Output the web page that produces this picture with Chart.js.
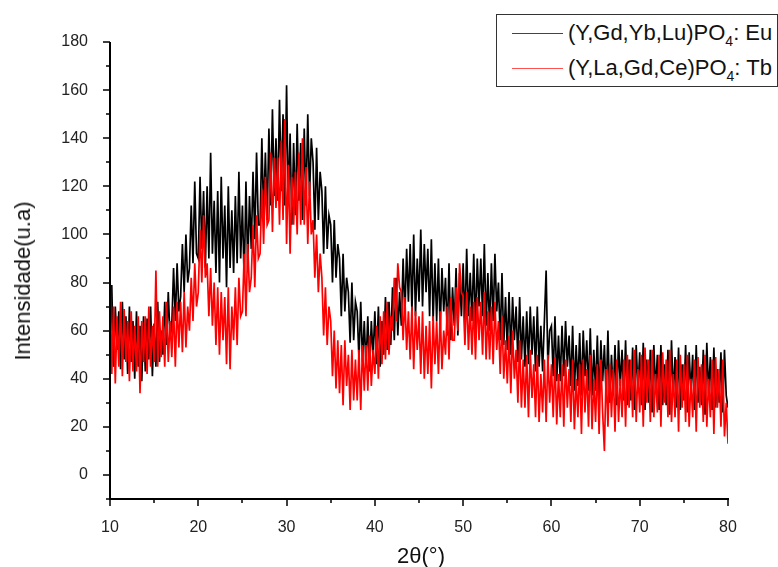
<!DOCTYPE html>
<html><head><meta charset="utf-8">
<script src="https://cdn.jsdelivr.net/npm/chart.js@4.4.1/dist/chart.umd.min.js"></script>
<style>
html,body{margin:0;padding:0;background:#fff;}
#wrap{position:relative;width:778px;height:567px;overflow:hidden;background:#fff;}
#c{position:absolute;left:0;top:0;}
.t{position:absolute;font-family:"Liberation Sans",Arial,sans-serif;color:#111;white-space:nowrap;line-height:1;}
#ytitle{left:23px;top:281px;transform:translate(-50%,-50%) rotate(-90deg);font-size:22px;}
#xtitle{left:421px;top:556px;transform:translate(-50%,-50%);font-size:22px;}
#legend{position:absolute;left:496px;top:14px;width:282px;height:73px;border:1px solid #333;box-sizing:border-box;background:#fff;}
.lrow{position:absolute;left:0;height:30px;width:100%;}
.lline{position:absolute;left:15px;width:51px;height:0;border-top:1.5px solid;top:14px;}
.ltext{position:absolute;left:71px;top:3px;font-family:"Liberation Sans",Arial,sans-serif;font-size:22px;color:#111;white-space:nowrap;line-height:22px;}
.ltext sub{font-size:14px;vertical-align:-6px;line-height:0;}
</style>
</head><body>
<div id="wrap">
<canvas id="c" width="778" height="567"></canvas>
<div class="t" id="ytitle">Intensidade(u.a)</div>
<div class="t" id="xtitle">2θ(°)</div>
<div id="legend">
  <div class="lrow" style="top:4px"><div class="lline" style="border-color:#444"></div><div class="ltext">(Y,Gd,Yb,Lu)PO<sub>4</sub>: Eu</div></div>
  <div class="lrow" style="top:39px"><div class="lline" style="border-color:#ff5050"></div><div class="ltext">(Y,La,Gd,Ce)PO<sub>4</sub>: Tb</div></div>
</div>
</div>
<script>
// scan settings
const START_ANGLE = 10;
const STEP = 0.2;

// (Y,Gd,Yb,Lu)PO4: Eu  -- black
const seriesEu = [
50,79,45,70,52, 68,44,72,48,66, 42,70,47,64,40, 68,45,62,39,66, 43,65,48,70,41, 63,45,72,47,60, 50,72,54,76,57, 62,86,64,88,68, 74,96,76,100,80, 86,112,88,122,92,
90,124,94,118,86, 120,90,134,92,114, 84,118,80,124,90, 112,78,120,86,110, 84,116,88,126,90, 112,80,122,86,116, 94,126,98,134,104, 104,140,108,134,106, 144,112,152,116,140, 114,156,118,150,112,
162,112,142,104,138, 108,146,114,138,106, 144,112,150,116,140, 130,102,136,106,126, 118,92,120,94,108, 104,80,106,82,96, 90,66,92,68,82, 76,55,80,56,72, 68,48,72,47,64, 45,66,43,64,49,
68,46,70,45,64, 50,74,52,72,54, 78,56,82,58,76, 62,90,66,94,72, 96,68,100,66,90, 72,102,70,96,76, 94,66,98,64,88, 64,90,60,86,68, 82,58,88,56,78, 62,86,58,84,66,
88,62,94,66,84, 64,92,60,90,70, 90,66,96,62,84, 60,88,64,92,68, 80,56,84,54,74, 52,76,50,74,56, 70,47,74,48,66, 45,68,46,70,50, 66,43,70,45,62, 43,64,85,45,60,
62,41,66,39,58, 39,62,41,64,45, 58,37,62,35,54, 37,59,33,60,41, 56,35,61,33,52, 35,58,31,56,39, 54,32,60,30,50, 33,54,29,56,37, 52,31,56,29,48, 31,53,27,54,35,
51,29,55,27,48, 30,52,26,54,35, 50,27,54,29,46, 29,52,25,56,33, 49,28,53,27,46, 31,54,26,51,34, 50,27,54,30,45, 29,52,25,55,34, 49,27,53,28,44, 30,51,26,52,33,
28];

// (Y,La,Gd,Ce)PO4: Tb  -- red
const seriesTb = [
84,42,70,38,66, 45,72,41,69,47, 64,39,68,43,62, 43,66,34,64,47, 66,42,70,45,62, 47,85,45,68,49, 66,45,72,47,64, 49,70,45,72,53, 72,51,76,53,70, 60,82,64,88,70,
76,102,80,108,82, 88,66,86,62,80, 54,78,50,76,56, 74,46,78,44,70, 56,78,54,82,66, 68,92,66,96,76, 82,104,78,108,90, 92,119,96,124,104, 106,134,101,132,111, 132,104,139,106,148,
96,129,92,124,104, 126,100,134,104,140, 104,128,96,122,100, 106,82,100,76,92, 82,58,78,54,70, 64,41,60,36,56, 34,54,29,56,37, 50,27,52,31,48, 31,52,27,54,35, 54,35,58,37,52,
42,62,40,66,46, 68,48,72,50,66, 60,82,64,88,78, 76,56,74,52,68, 48,70,44,68,52, 66,42,68,40,62, 42,64,36,66,46, 64,42,68,44,60, 50,70,48,74,56, 56,78,60,88,76,
74,54,76,52,70, 50,72,48,74,56, 72,50,76,48,68, 48,70,46,72,52, 64,42,66,40,56, 38,58,34,60,40, 52,30,56,28,48, 28,50,24,52,32, 46,24,50,22,42, 26,48,22,50,30,
46,24,49,21,42, 24,46,20,48,28, 44,22,48,19,40, 24,46,17,48,26, 44,20,50,19,40, 22,46,17,48,26, 10,44,20,46,24, 44,18,48,22,40, 24,48,20,50,28, 48,24,52,22,44,
26,50,20,53,30, 48,22,52,24,42, 26,50,20,51,30, 48,24,52,22,42, 24,48,18,50,28, 46,22,50,20,40, 24,48,18,49,28, 46,22,50,20,40, 24,48,17,49,28, 44,20,48,16,30,
13];

const xTickValues = [10,15,20,25,30,35,40,45,50,55,60,65,70,75,80];
const yTickValues = [-10,0,10,20,30,40,50,60,70,80,90,100,110,120,130,140,150,160,170,180];

const toPoints = arr => arr.map((v, i) => ({x: +(START_ANGLE + i * STEP).toFixed(2), y: v}));
const FONT = '"Liberation Sans", Arial, sans-serif';

const axisPlugin = {
  id: 'axisPlugin',
  afterDraw(chart) {
    const {ctx, chartArea: a, scales: {x, y}} = chart;
    ctx.save();
    ctx.strokeStyle = '#000';
    ctx.lineWidth = 2;
    ctx.beginPath();
    ctx.moveTo(a.left, a.top);
    ctx.lineTo(a.left, a.bottom);
    ctx.lineTo(a.right + 1, a.bottom);
    ctx.stroke();
    ctx.lineWidth = 1.5;
    ctx.beginPath();
    xTickValues.forEach(v => {
      const px = Math.round(x.getPixelForValue(v));
      const len = v % 10 === 0 ? 7 : 4;
      ctx.moveTo(px, a.bottom);
      ctx.lineTo(px, a.bottom + len);
    });
    yTickValues.forEach(v => {
      const py = Math.round(y.getPixelForValue(v));
      const len = (v % 20 === 0) ? 7 : 4;
      ctx.moveTo(a.left, py);
      ctx.lineTo(a.left - len, py);
    });
    ctx.stroke();
    ctx.restore();
  }
};

new Chart(document.getElementById('c'), {
  type: 'line',
  data: {
    datasets: [
      {label: '(Y,La,Gd,Ce)PO4: Tb', data: toPoints(seriesTb), borderColor: '#ff0000', borderWidth: 1.7, pointRadius: 0, tension: 0},
      {label: '(Y,Gd,Yb,Lu)PO4: Eu', data: toPoints(seriesEu), borderColor: '#000000', borderWidth: 1.7, pointRadius: 0, tension: 0}
    ]
  },
  options: {
    responsive: false,
    animation: false,
    devicePixelRatio: 1,
    layout: {padding: {left: 0, top: 42, right: 50, bottom: 0}},
    plugins: {legend: {display: false}, tooltip: {enabled: false}},
    scales: {
      x: {
        type: 'linear', min: 10, max: 80,
        afterBuildTicks: s => { s.ticks = xTickValues.map(v => ({value: v})); },
        afterFit: s => { s.height = 68; },
        ticks: {autoSkip: false, maxRotation: 0, padding: 11, color: '#222', font: {family: FONT, size: 16},
          callback: v => (v % 10 === 0 ? String(v) : '')},
        grid: {display: false},
        border: {display: false}
      },
      y: {
        type: 'linear', min: -10, max: 180,
        afterBuildTicks: s => { s.ticks = yTickValues.map(v => ({value: v})); },
        afterFit: s => { s.width = 110; },
        ticks: {autoSkip: false, padding: 14, color: '#222', font: {family: FONT, size: 16},
          callback: v => (v % 20 === 0 && v >= 0 ? String(v) : '')},
        grid: {display: false},
        border: {display: false}
      }
    }
  },
  plugins: [axisPlugin]
});
</script>
</body></html>
